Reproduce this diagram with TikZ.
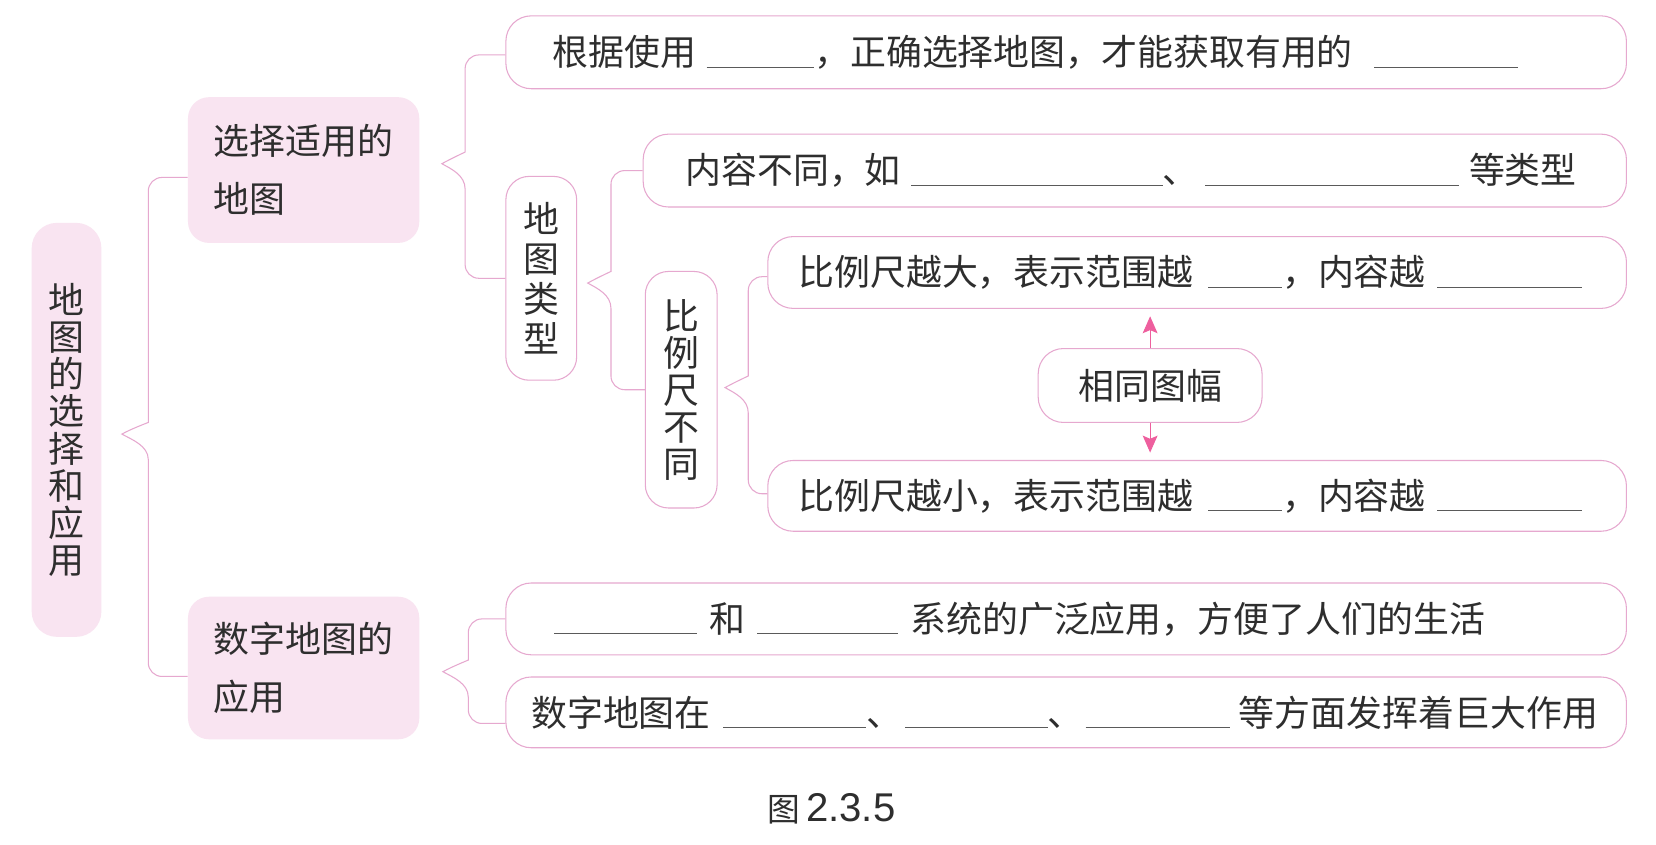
\documentclass[tikz,border=0pt]{standalone}
\usepackage{fontspec}
\newfontfamily\cjk{Noto Sans CJK SC}
\newfontfamily\capfont{Liberation Sans}
\usetikzlibrary{calc,arrows.meta}
\definecolor{pinkfill}{HTML}{F9E4F1}
\definecolor{pinkline}{HTML}{E6A8CF}
\definecolor{arrowpink}{HTML}{EE5F9E}
\definecolor{textc}{HTML}{2E2E2E}
\definecolor{blankc}{HTML}{5A5A5A}
\newcommand{\blank}[1]{{\color{blankc}\rule[-1pt]{#1}{0.5pt}}}
\newcommand{\bracepath}[4]{%
  \draw[conn] (#2) [rounded corners=6.5pt] -| ($(#1)+(#4,-24)$) [sharp corners]
    .. controls ($(#1)+(#4,-11)$) and ($(#1)+(9,-5)$) .. (#1)
    .. controls ($(#1)+(9,5)$) and ($(#1)+(#4,11)$) .. ($(#1)+(#4,24)$)
    [rounded corners=6.5pt] |- (#3);}
\begin{document}
\begin{tikzpicture}[x=0.5pt,y=-0.5pt,
  txt/.style={font=\cjk\fontsize{17pt}{20pt}\selectfont, text=textc},
  fbox/.style={txt, fill=pinkfill, draw=none, rounded corners=10pt, inner sep=0pt, align=left,
     minimum width=109.5pt, font=\cjk\fontsize{17pt}{27.5pt}\selectfont},
  lbox/.style={txt, draw=pinkline, line width=0.5pt, fill=white, rounded corners=12pt,
     inner ysep=0pt, align=left},
  vbox/.style={txt, draw=pinkline, line width=0.5pt, fill=white, rounded corners=11pt,
     inner sep=0pt, align=center, minimum width=34pt},
  conn/.style={draw=pinkline, line width=0.5pt},
  arr/.style={draw=arrowpink, line width=0.45pt, -{Stealth[length=8pt,width=7pt,inset=1.5pt]}, shorten >=3.5pt},
]
\fill[white] (0,0) rectangle (1568,800);
\useasboundingbox (0,0) rectangle (1568,800);

% root
\node[txt, fill=pinkfill, rounded corners=12pt, inner sep=0pt, align=center,
      minimum width=33pt, minimum height=196pt, font=\cjk\fontsize{17pt}{17.6pt}\selectfont]
      (root) at (63,407) {地\\图\\的\\选\\择\\和\\应\\用};

% second level
\node[fbox, minimum height=69pt] (selA) at (287.5,161) {选择适用的\\地图};
\node[fbox, minimum height=67.5pt] (selB) at (287.5,632.5) {数字地图的\\应用};

% T1
\node[lbox, minimum width=530.5pt, minimum height=34.5pt, inner xsep=22pt, text width=486.5pt]
  (T1) at (1009.5,49.5) {\mbox{根据使用\hspace{5pt}\blank{51pt}，正确选择地图，才能获取有用的\hspace{10pt}\blank{68pt}}};

% map types
\node[vbox, minimum height=96.5pt, minimum width=33.5pt, font=\cjk\fontsize{17pt}{19pt}\selectfont]
  (maptype) at (512.5,263.5) {地\\图\\类\\型};

\node[lbox, minimum width=465.5pt, minimum height=34.5pt, inner xsep=20pt, text width=425.5pt]
  (T2) at (1074.5,161.5) {\mbox{内容不同，如\hspace{5pt}\blank{119pt}、\hspace{3pt}\blank{120pt}\hspace{5pt}等类型}};

\node[vbox, minimum height=112pt, font=\cjk\fontsize{17pt}{17.5pt}\selectfont]
  (scaleD) at (645,369) {比\\例\\尺\\不\\同};

\node[lbox, minimum width=406.5pt, minimum height=34pt, inner xsep=14.5pt, text width=377.5pt]
  (T3) at (1133.5,258) {\mbox{比例尺越大，表示范围越\hspace{7pt}\blank{35pt}，内容越\hspace{5.5pt}\blank{68.5pt}}};

\node[lbox, minimum width=406.5pt, minimum height=33.5pt, inner xsep=14.5pt, text width=377.5pt]
  (T4) at (1133.5,469.5) {\mbox{比例尺越小，表示范围越\hspace{7pt}\blank{35pt}，内容越\hspace{5.5pt}\blank{68.5pt}}};

\node[lbox, minimum width=106pt, minimum height=35pt, inner xsep=0pt, align=center]
  (same) at (1089,365) {相同图幅};

% digital maps
\node[lbox, minimum width=530.5pt, minimum height=34pt, inner xsep=23pt, text width=484.5pt]
  (T5) at (1009.5,586) {\mbox{\blank{67.5pt}\hspace{6pt}和\hspace{5.5pt}\blank{66.5pt}\hspace{6pt}系统的广泛应用，方便了人们的生活}};

\node[lbox, minimum width=530.5pt, minimum height=33.5pt, inner xsep=12pt, text width=506.5pt]
  (T6) at (1009.5,674.5) {\mbox{数字地图在\hspace{6pt}\blank{67.5pt}、\hspace{1.5pt}\blank{67.5pt}、\hspace{1pt}\blank{68.5pt}\hspace{4pt}等方面发挥着巨大作用}};

% caption
\node[inner sep=0pt, text=textc] (cap) at (787,766)
  {{\cjk\fontsize{15.5pt}{18pt}\selectfont 图}\hspace{3pt}{\capfont\fontsize{19pt}{22pt}\selectfont 2.3.5}};

% brace tips
\coordinate (tip0) at ($(root.east)+(19,4)$);
\coordinate (tip1) at ($(selA.east)+(21,-6)$);
\coordinate (tip2) at ($(maptype.east)+(10,4.5)$);
\coordinate (tip3) at ($(scaleD.east)+(7,-2)$);
\coordinate (tip4) at ($(selB.east)+(22,3.5)$);

\bracepath{tip0}{$(selA.west)+(0,7)$}{$(selB.west)+(0,8)$}{25}
\bracepath{tip1}{$(T1.west)+(0,2.5)$}{maptype.west}{22}
\bracepath{tip2}{T2.west}{scaleD.west}{22}
\bracepath{tip3}{$(T3.west)+(0,4)$}{$(T4.west)+(0,-2)$}{22}
\bracepath{tip4}{T5.west}{$(T6.west)+(0,10.5)$}{24}

% arrows
\draw[arr] (same.north) -- (same.north |- T3.south);
\draw[arr] (same.south) -- (same.south |- T4.north);
\end{tikzpicture}
\end{document}
